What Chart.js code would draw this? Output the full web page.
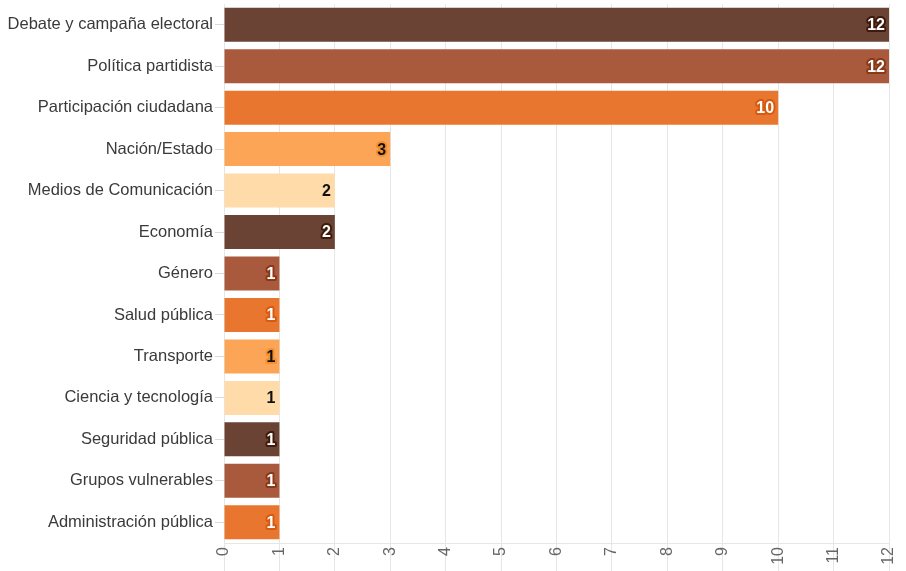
<!DOCTYPE html>
<html>
<head>
<meta charset="utf-8">
<script src="https://cdn.jsdelivr.net/npm/chart.js@4/dist/chart.umd.min.js"></script>
<style>
  html, body { margin: 0; padding: 0; background: #fff; }
  #wrap { width: 906px; height: 571px; }
</style>
</head>
<body>
<div id="wrap"><canvas id="c" width="906" height="571"></canvas></div>
<script>
const categories = [
  "Debate y campaña electoral",
  "Política partidista",
  "Participación ciudadana",
  "Nación/Estado",
  "Medios de Comunicación",
  "Economía",
  "Género",
  "Salud pública",
  "Transporte",
  "Ciencia y tecnología",
  "Seguridad pública",
  "Grupos vulnerables",
  "Administración pública"
];
const values = [12, 12, 10, 3, 2, 2, 1, 1, 1, 1, 1, 1, 1];
const xTicks = [0,1,2,3,4,5,6,7,8,9,10,11,12];

const palette = ["#6a4334", "#a95a3c", "#e8762f", "#fda556", "#fedba8"];
const labelFill = ["#ffffff", "#ffffff", "#ffffff", "#111111", "#111111"];
const labelStroke = ["#3d1a0c", "#8a3818", "#d65a10", "#f59030", "#fedba8"];

const barColors = values.map((v, i) => palette[i % palette.length]);

const labelPlugin = {
  id: 'barLabels',
  afterDatasetsDraw(chart) {
    const ctx = chart.ctx;
    const meta = chart.getDatasetMeta(0);
    ctx.save();
    ctx.font = 'bold 16px "Liberation Sans", Arial, sans-serif';
    ctx.textAlign = 'right';
    ctx.textBaseline = 'middle';
    ctx.lineJoin = 'round';
    meta.data.forEach((bar, i) => {
      const k = i % palette.length;
      const txt = String(values[i]);
      const x = bar.x - 4;
      const y = bar.y + 1;
      ctx.lineWidth = 4;
      ctx.strokeStyle = labelStroke[k];
      ctx.strokeText(txt, x, y);
      ctx.fillStyle = labelFill[k];
      ctx.fillText(txt, x, y);
    });
    ctx.restore();
  }
};

new Chart(document.getElementById('c'), {
  type: 'bar',
  data: {
    labels: categories,
    datasets: [{
      data: values,
      backgroundColor: barColors,
      borderWidth: 0,
      barPercentage: 1.0,
      categoryPercentage: 0.82
    }]
  },
  options: {
    indexAxis: 'y',
    responsive: false,
    animation: false,
    layout: { padding: { top: 4, right: 17, left: 0, bottom: 0 } },
    plugins: {
      legend: { display: false },
      tooltip: { enabled: false }
    },
    scales: {
      x: {
        type: 'linear',
        min: 0,
        max: 12,
        afterBuildTicks(scale) { scale.ticks = xTicks.map(v => ({ value: v })); },
        afterFit(scale) { scale.height = 28; scale.paddingRight = 0; scale.paddingLeft = 0; },
        grid: {
          color: '#e6e6e6',
          lineWidth: 1,
          drawTicks: true,
          tickLength: 28,
          tickColor: '#e6e6e6'
        },
        border: { display: true, color: '#e6e6e6' },
        ticks: {
          minRotation: 90,
          maxRotation: 90,
          autoSkip: false,
          padding: -24,
          color: '#666666',
          font: { family: '"Liberation Sans", Arial, sans-serif', size: 16 }
        }
      },
      y: {
        afterFit(scale) { scale.width = 224; scale.paddingTop = 0; scale.paddingBottom = 0; },
        grid: {
          offset: false,
          drawOnChartArea: false,
          drawTicks: true,
          tickLength: 9,
          tickColor: '#d9d9d9'
        },
        border: { display: false },
        ticks: {
          padding: 2,
          color: '#3a3a3a',
          font: { family: '"Liberation Sans", Arial, sans-serif', size: 16.5 }
        }
      }
    }
  },
  plugins: [labelPlugin]
});
</script>
</body>
</html>
